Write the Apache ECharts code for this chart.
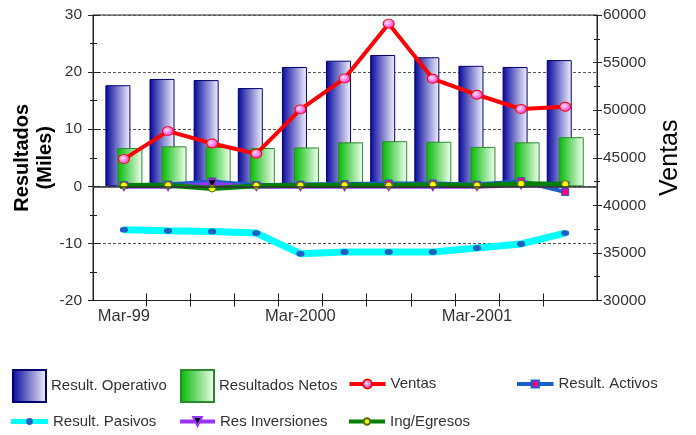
<!DOCTYPE html>
<html>
<head>
<meta charset="utf-8">
<script src="https://cdn.jsdelivr.net/npm/echarts@6/dist/echarts.min.js"></script>
<style>
  html, body { margin: 0; padding: 0; background: #fff; }
  #chart { width: 696px; height: 435px; }
</style>
</head>
<body>
<div id="chart"></div>
<script>
// quarterly figures, only the March quarters get a label
var categories = ['Mar-99', 'Jun-99', 'Sep-99', 'Dic-99', 'Mar-2000', 'Jun-2000', 'Sep-2000', 'Dic-2000', 'Mar-2001', 'Jun-2001', 'Sep-2001']
var labelIndexes = [0, 4, 8]
var resOperativo = [17.7, 18.8, 18.6, 17.2, 20.9, 22.0, 23.0, 22.6, 21.1, 20.9, 22.1]
var resNetos = [6.7, 7.0, 6.9, 6.7, 6.8, 7.7, 7.9, 7.8, 6.9, 7.7, 8.6]
var ventas = [44860, 47800, 46500, 45420, 50080, 53340, 59090, 53300, 51620, 50120, 50360]
var resActivos = [0.2, 0.3, 0.85, 0.2, 0.3, 0.4, 0.5, 0.5, 0.3, 0.9, -1.0]
var resPasivos = [-7.6, -7.8, -7.9, -8.2, -11.8, -11.5, -11.5, -11.5, -10.8, -10.1, -8.2]
var resInversiones = [-0.1, -0.1, 0.45, -0.1, -0.1, -0.1, -0.1, -0.1, -0.1, 0.2, 0.05]
var ingEgresos = [0.15, 0.2, -0.38, 0.1, 0.15, 0.2, 0.15, 0.26, 0.15, 0.44, 0.38]

var font = "'Liberation Sans', Arial, sans-serif"
var xMin = -0.7
var xMax = 10.72

// ticks sit between the quarters
var tickValues = categories.slice(1).map(function(c, i) { return i + 0.5 })

function pairs(arr) {
  return arr.map(function(v, i) { return [i, v] })
}

function hGradient(from, to) {
  return { type: 'linear', x: 0, y: 0, x2: 1, y2: 0, colorStops: [{ offset: 0, color: from }, { offset: 1, color: to }] }
}

function lineSeries(name, data, yIndex, color, width, symbol, size, fill, border, rotate) {
  return {
    name: name,
    type: 'line',
    xAxisIndex: 0,
    yAxisIndex: yIndex,
    data: pairs(data),
    symbol: symbol,
    symbolSize: size,
    symbolRotate: rotate || 0,
    lineStyle: { color: color, width: width },
    itemStyle: { color: fill, borderColor: border, borderWidth: 1 },
    z: 3
  }
}

function legendItem(name, left, top, w, h, icon, lineWidth) {
  var lg = {
    data: [name],
    left: left,
    top: top,
    padding: 0,
    itemWidth: w,
    itemHeight: h,
    selectedMode: false,
    textStyle: { fontFamily: font, fontSize: 15, color: '#333', lineHeight: 20 }
  }
  if (icon) lg.icon = icon
  if (lineWidth) lg.lineStyle = { width: lineWidth }
  return lg
}

var chart = echarts.init(document.getElementById('chart'))
chart.setOption({
  animation: false,
  grid: {
    left: 93,
    right: 99,
    top: 15,
    bottom: 134.5,
    show: true,
    borderColor: '#222',
    borderWidth: 1,
    outerBoundsMode: 'none'
  },
  legend: [
    legendItem('Result. Operativo', 12, 369, 33, 32, 'rect'),
    legendItem('Resultados Netos', 180, 369, 33, 32, 'rect'),
    legendItem('Ventas', 347.5, 374, 36, 11, null, 4),
    legendItem('Result. Activos', 515, 374, 36.5, 9, null, 4),
    legendItem('Result. Pasivos', 8.5, 411.5, 37, 6, null, 5),
    legendItem('Res Inversiones', 178, 411.5, 35, 11, null, 4),
    legendItem('Ing/Egresos', 347, 411.5, 36, 8, null, 4)
  ],
  xAxis: [{
    type: 'value',
    min: xMin,
    max: xMax,
    position: 'bottom',
    axisLine: { onZero: false, lineStyle: { color: '#222' } },
    axisTick: { show: true, length: 6, customValues: tickValues, lineStyle: { color: '#222' } },
    axisLabel: {
      customValues: labelIndexes,
      formatter: function(v) { return categories[Math.round(v)] },
      fontFamily: font,
      fontSize: 16.5,
      color: '#333',
      margin: 7
    },
    splitLine: { show: false }
  }, {
    // inner half of the crossing ticks
    type: 'value',
    min: xMin,
    max: xMax,
    position: 'bottom',
    axisLine: { show: false, onZero: false },
    axisTick: { show: true, inside: true, length: 7, customValues: tickValues, lineStyle: { color: '#222' } },
    axisLabel: { show: false },
    splitLine: { show: false }
  }],
  yAxis: [{
    type: 'value',
    position: 'left',
    min: -20,
    max: 30,
    interval: 10,
    name: 'Resultados\n(Miles)',
    nameLocation: 'middle',
    nameRotate: 90,
    nameGap: 36,
    nameMoveOverlap: false,
    nameTextStyle: { fontFamily: font, fontWeight: 'bold', fontSize: 20, color: '#000', lineHeight: 23 },
    axisLine: { show: true, onZero: false, lineStyle: { color: '#222' } },
    axisTick: { show: true, length: 5, lineStyle: { color: '#222' } },
    minorTick: { show: true, splitNumber: 2, length: 3, lineStyle: { color: '#222' } },
    axisLabel: { fontFamily: font, fontSize: 15.5, color: '#333', margin: 11 },
    splitLine: { show: true, lineStyle: { color: '#555', type: [3, 2], width: 1 } }
  }, {
    type: 'value',
    position: 'right',
    min: 30000,
    max: 60000,
    interval: 5000,
    name: 'Ventas',
    nameLocation: 'middle',
    nameRotate: 90,
    nameGap: 61,
    nameMoveOverlap: false,
    nameTextStyle: { fontFamily: font, fontSize: 25, color: '#000' },
    axisLine: { show: true, onZero: false, lineStyle: { color: '#222' } },
    axisTick: { show: true, length: 5, lineStyle: { color: '#222' } },
    minorTick: { show: true, splitNumber: 2, length: 3, lineStyle: { color: '#222' } },
    axisLabel: {
      fontFamily: font,
      fontSize: 15.5,
      color: '#333',
      margin: 6,
      formatter: function(v) { return String(v) }
    },
    splitLine: { show: false }
  }, {
    type: 'value',
    position: 'left',
    min: -20,
    max: 30,
    interval: 10,
    axisLine: { show: false, onZero: false },
    axisTick: { show: true, inside: true, length: 7, lineStyle: { color: '#222' } },
    minorTick: { show: true, splitNumber: 2, length: 4, lineStyle: { color: '#222' } },
    axisLabel: { show: false },
    splitLine: { show: false }
  }, {
    type: 'value',
    position: 'right',
    min: 30000,
    max: 60000,
    interval: 5000,
    axisLine: { show: false, onZero: false },
    axisTick: { show: true, inside: true, length: 4, lineStyle: { color: '#222' } },
    minorTick: { show: true, splitNumber: 2, length: 3, lineStyle: { color: '#222' } },
    axisLabel: { show: false },
    splitLine: { show: false }
  }],
  series: [{
    name: 'Result. Operativo',
    type: 'bar',
    xAxisIndex: 0,
    yAxisIndex: 0,
    data: pairs(resOperativo),
    barWidth: 25,
    barGap: '-52%',
    itemStyle: { color: hGradient('#06069c', '#f4f4ff'), borderColor: '#00006e', borderWidth: 1 },
    markLine: {
      silent: true,
      symbol: 'none',
      label: { show: false },
      lineStyle: { color: '#333', type: 'solid', width: 1.5 },
      data: [{ yAxis: 0 }]
    }
  }, {
    name: 'Resultados Netos',
    type: 'bar',
    xAxisIndex: 0,
    yAxisIndex: 0,
    data: pairs(resNetos),
    barWidth: 25,
    barGap: '-52%',
    itemStyle: { color: hGradient('#00b800', '#f4fff4'), borderColor: '#2a8a2a', borderWidth: 1 }
  },
  lineSeries('Ventas', ventas, 1, '#ff0000', 4, 'circle', [11, 9],
    { type: 'radial', x: 0.4, y: 0.4, r: 0.6, colorStops: [{ offset: 0, color: '#ffe0ff' }, { offset: 1, color: '#ff33cc' }] },
    '#ff0000'),
  lineSeries('Result. Activos', resActivos, 0, '#1a5fc8', 4, 'rect', 7, '#ff0080', '#1a5fc8'),
  lineSeries('Result. Pasivos', resPasivos, 0, '#00ffff', 7, 'circle', [7, 5], '#1f5fbf', '#1f5fbf'),
  lineSeries('Res Inversiones', resInversiones, 0, '#9933ff', 4, 'triangle', [9, 8], '#000000', '#9933ff', 180),
  lineSeries('Ing/Egresos', ingEgresos, 0, '#008000', 5, 'circle', 7, '#ffff00', '#556b00')
  ]
})
</script>
</body>
</html>
